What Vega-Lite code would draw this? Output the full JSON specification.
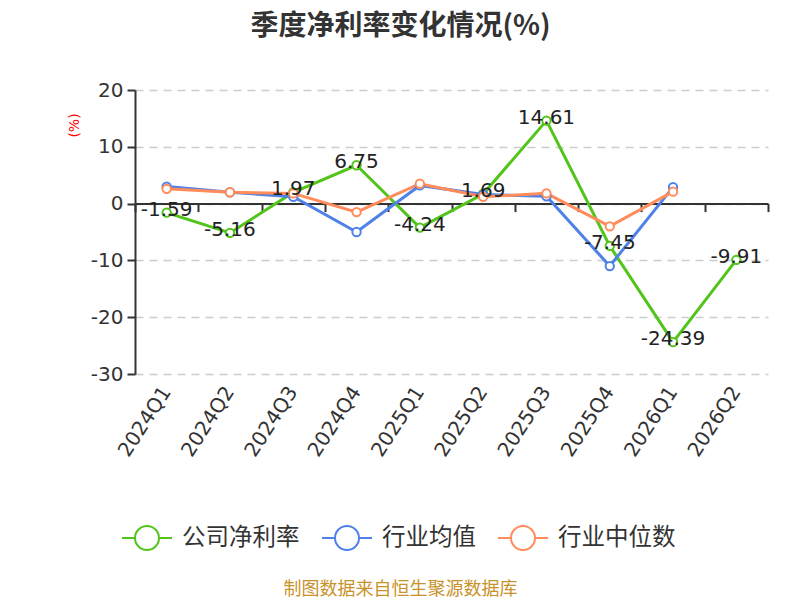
{
  "$schema": "https://vega.github.io/schema/vega-lite/v6.json",
  "width": 633,
  "height": 284,
  "autosize": "none",
  "padding": {"left": 135, "top": 90, "right": 32, "bottom": 226},
  "background": "white",
  "config": {
    "view": {"stroke": null},
    "font": "Noto Sans CJK SC",
    "locale": {"number": {"decimal": ".", "thousands": ",", "grouping": [3], "currency": ["$", ""], "minus": "-"}}
  },
  "title": {
    "text": "季度净利率变化情况(%)",
    "fontSize": 28,
    "fontWeight": "bold",
    "color": "#333333",
    "anchor": "middle",
    "dx": -51,
    "offset": 39,
    "font": "Noto Sans CJK SC"
  },
  "data": {
    "values": [
      {"quarter": "2024Q1", "series": "公司净利率", "value": -1.59},
      {"quarter": "2024Q2", "series": "公司净利率", "value": -5.16},
      {"quarter": "2024Q3", "series": "公司净利率", "value": 1.97},
      {"quarter": "2024Q4", "series": "公司净利率", "value": 6.75},
      {"quarter": "2025Q1", "series": "公司净利率", "value": -4.24},
      {"quarter": "2025Q2", "series": "公司净利率", "value": 1.69},
      {"quarter": "2025Q3", "series": "公司净利率", "value": 14.61},
      {"quarter": "2025Q4", "series": "公司净利率", "value": -7.45},
      {"quarter": "2026Q1", "series": "公司净利率", "value": -24.39},
      {"quarter": "2026Q2", "series": "公司净利率", "value": -9.91},
      {"quarter": "2024Q1", "series": "行业均值", "value": 3.0},
      {"quarter": "2024Q2", "series": "行业均值", "value": 2.0},
      {"quarter": "2024Q3", "series": "行业均值", "value": 1.2},
      {"quarter": "2024Q4", "series": "行业均值", "value": -5.0},
      {"quarter": "2025Q1", "series": "行业均值", "value": 3.2},
      {"quarter": "2025Q2", "series": "行业均值", "value": 1.6},
      {"quarter": "2025Q3", "series": "行业均值", "value": 1.3},
      {"quarter": "2025Q4", "series": "行业均值", "value": -11.0},
      {"quarter": "2026Q1", "series": "行业均值", "value": 2.9},
      {"quarter": "2024Q1", "series": "行业中位数", "value": 2.6},
      {"quarter": "2024Q2", "series": "行业中位数", "value": 2.0},
      {"quarter": "2024Q3", "series": "行业中位数", "value": 1.8},
      {"quarter": "2024Q4", "series": "行业中位数", "value": -1.5},
      {"quarter": "2025Q1", "series": "行业中位数", "value": 3.5},
      {"quarter": "2025Q2", "series": "行业中位数", "value": 1.2},
      {"quarter": "2025Q3", "series": "行业中位数", "value": 1.8},
      {"quarter": "2025Q4", "series": "行业中位数", "value": -4.0},
      {"quarter": "2026Q1", "series": "行业中位数", "value": 2.1}
    ]
  },
  "resolve": {"axis": {"x": "independent"}},
  "layer": [
    {
      "mark": {"type": "line", "strokeWidth": 3},
      "encoding": {
        "x": {
          "field": "quarter", "type": "ordinal",
          "scale": {"type": "band", "paddingInner": 0, "paddingOuter": 0},
          "axis": {
            "orient": "bottom", "offset": -170.4, "labels": false, "title": null,
            "domain": true, "domainColor": "#333333", "domainWidth": 2,
            "ticks": true, "tickBand": "extent", "tickColor": "#333333", "tickWidth": 2, "tickSize": 8,
            "grid": false
          }
        },
        "y": {
          "field": "value", "type": "quantitative",
          "scale": {"domain": [-30, 20], "nice": false},
          "axis": {
            "values": [-30, -20, -10, 0, 10, 20],
            "title": "(%)", "titleColor": "#ff0000", "titleFontSize": 14, "titleFontWeight": "normal", "titleFont": "DejaVu Sans",
            "titleX": -61, "titleY": 35, "titleAngle": -90, "titleAlign": "center", "titleBaseline": "middle",
            "labelFontSize": 20, "labelColor": "#333333", "labelPadding": 4, "labelFont": "DejaVu Sans",
            "domainColor": "#333333", "domainWidth": 2,
            "tickColor": "#333333", "tickWidth": 2, "tickSize": 8,
            "grid": true, "gridColor": "#cccccc", "gridDash": [8, 6], "gridWidth": 1.5
          }
        },
        "color": {
          "field": "series", "type": "nominal",
          "scale": {"domain": ["公司净利率", "行业均值", "行业中位数"], "range": ["#52c41a", "#4f81e8", "#ff8c5a"]},
          "legend": {
            "orient": "none", "direction": "horizontal", "title": null,
            "legendX": -14, "legendY": 422,
            "symbolType": "M-1,0L-0.48,0M0.48,0L1,0M0.48,0A0.48,0.48,0,1,1,-0.48,0A0.48,0.48,0,1,1,0.48,0",
            "symbolSize": 2500, "symbolStrokeWidth": 2, "symbolFillColor": "white",
            "labelFontSize": 23.5, "labelColor": "#333333", "labelOffset": 9,
            "columnPadding": 18
          }
        }
      }
    },
    {
      "mark": {"type": "point", "filled": true, "fill": "white", "size": 70, "strokeWidth": 2, "opacity": 1},
      "encoding": {
        "x": {"field": "quarter", "type": "ordinal",
          "axis": {
            "orient": "bottom", "labels": true, "domain": false, "ticks": false, "grid": false,
            "labelAngle": -57, "labelFontSize": 20, "labelFont": "DejaVu Sans", "labelColor": "#333333", "labelPadding": 14,
            "title": "制图数据来自恒生聚源数据库", "titleColor": "#c8922a", "titleFontSize": 18, "titleFontWeight": "normal",
            "titleX": 265, "titleY": 215, "titleAlign": "center", "titleBaseline": "middle"
          }
        },
        "y": {"field": "value", "type": "quantitative"},
        "stroke": {"field": "series", "type": "nominal", "scale": {"domain": ["公司净利率", "行业均值", "行业中位数"], "range": ["#52c41a", "#4f81e8", "#ff8c5a"]}, "legend": null}
      }
    },
    {
      "transform": [{"filter": "datum.series === '公司净利率'"}],
      "mark": {"type": "text", "fontSize": 20, "font": "DejaVu Sans", "color": "#222222", "dy": -3, "baseline": "middle", "align": "center"},
      "encoding": {
        "x": {"field": "quarter", "type": "ordinal", "axis": null},
        "y": {"field": "value", "type": "quantitative"},
        "text": {"field": "value", "type": "quantitative", "format": ".2f"}
      }
    }
  ]
}
